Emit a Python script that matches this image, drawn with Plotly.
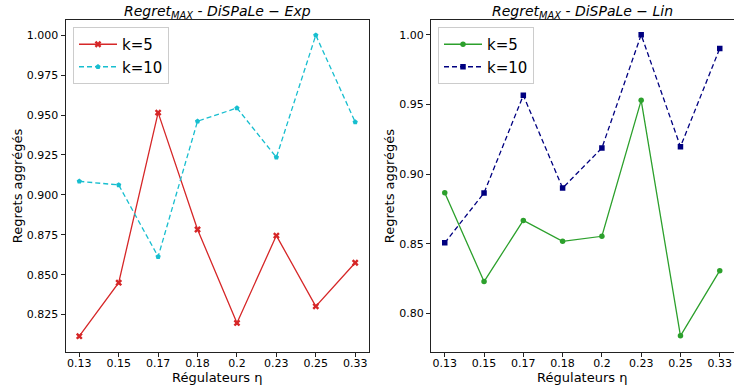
import plotly.graph_objects as go

eta_labels = ["0.13", "0.15", "0.17", "0.18", "0.2", "0.23", "0.25", "0.33"]

exp_k5 = [0.8115, 0.845, 0.9515, 0.8783, 0.8198, 0.8745, 0.8302, 0.8575]
exp_k10 = [0.9085, 0.9062, 0.8613, 0.9461, 0.9544, 0.9235, 1.000, 0.9456]

lin_k5 = [0.8866, 0.8228, 0.8667, 0.8517, 0.8553, 0.9529, 0.7838, 0.8306]
lin_k10 = [0.8506, 0.8864, 0.9565, 0.8899, 0.9187, 1.000, 0.9196, 0.9902]

W, H = 734, 390
FONT = "DejaVu Sans"

fig = go.Figure()

fig.add_trace(go.Scatter(x=eta_labels, y=exp_k5, name="k=5", mode="lines+markers",
                         line=dict(color="#d62728", width=1.3),
                         marker=dict(symbol="x", size=6, color="#d62728"),
                         xaxis="x", yaxis="y", legend="legend"))
fig.add_trace(go.Scatter(x=eta_labels, y=exp_k10, name="k=10", mode="lines+markers",
                         line=dict(color="#17becf", width=1.3, dash="5px,3px"),
                         marker=dict(symbol="pentagon", size=5.5, color="#17becf"),
                         xaxis="x", yaxis="y", legend="legend"))
fig.add_trace(go.Scatter(x=eta_labels, y=lin_k5, name="k=5", mode="lines+markers",
                         line=dict(color="#2ca02c", width=1.3),
                         marker=dict(symbol="circle", size=5.5, color="#2ca02c"),
                         xaxis="x2", yaxis="y2", legend="legend2"))
fig.add_trace(go.Scatter(x=eta_labels, y=lin_k10, name="k=10", mode="lines+markers",
                         line=dict(color="#000080", width=1.3, dash="5px,3px"),
                         marker=dict(symbol="square", size=5.5, color="#000080"),
                         xaxis="x2", yaxis="y2", legend="legend2"))

def px_x(p):
    return p / W

def px_y(p):
    return 1 - p / H

axis_common = dict(showline=True, linecolor="#222222", linewidth=1, mirror=True,
                   ticks="outside", ticklen=4, tickcolor="#222222", showgrid=False,
                   zeroline=False, tickfont=dict(family=FONT, size=11, color="black"))

xtitle = dict(text="Régulateurs η", font=dict(size=13), standoff=1)
ytitle = dict(text="Regrets aggrégés", font=dict(size=13), standoff=1)

fig.update_layout(
    width=W, height=H,
    margin=dict(l=0, r=0, t=0, b=0),
    paper_bgcolor="white", plot_bgcolor="white",
    font=dict(family=FONT, color="black"),
    xaxis=dict(domain=[px_x(65.5), px_x(369)], type="category", range=[-0.35, 7.35],
               anchor="y", title=xtitle, ticklabelstandoff=-3, **axis_common),
    yaxis=dict(domain=[px_y(352), px_y(20)], range=[0.8016, 1.0095], dtick=0.025,
               tickformat=".3f", anchor="x", title=ytitle, **axis_common),
    xaxis2=dict(domain=[px_x(431), px_x(733.5)], type="category", range=[-0.35, 7.35],
                anchor="y2", title=xtitle, ticklabelstandoff=-3, **axis_common),
    yaxis2=dict(domain=[px_y(352), px_y(20)], range=[0.7722, 1.0106], dtick=0.05,
                tickformat=".2f", anchor="x2", title=ytitle, **axis_common),
    legend=dict(x=px_x(73), y=px_y(27), xanchor="left", yanchor="top",
                bgcolor="rgba(255,255,255,0.8)", bordercolor="#cccccc", borderwidth=1,
                font=dict(size=15, family=FONT), itemwidth=38, tracegroupgap=0),
    legend2=dict(x=px_x(438), y=px_y(27), xanchor="left", yanchor="top",
                 bgcolor="rgba(255,255,255,0.8)", bordercolor="#cccccc", borderwidth=1,
                 font=dict(size=15, family=FONT), itemwidth=38, tracegroupgap=0),
    annotations=[
        dict(text="<i>Regret<sub>MAX</sub></i> - <i>DiSPaLe − Exp</i>", x=px_x(217.5), y=px_y(12),
             xref="paper", yref="paper", showarrow=False, xanchor="center", yanchor="middle",
             font=dict(size=14, family=FONT)),
        dict(text="<i>Regret<sub>MAX</sub></i> - <i>DiSPaLe − Lin</i>", x=px_x(582), y=px_y(12),
             xref="paper", yref="paper", showarrow=False, xanchor="center", yanchor="middle",
             font=dict(size=14, family=FONT)),
    ],
)

fig.write_html("out.html", config={"displayModeBar": False},
               post_script="document.body.style.margin='0';document.body.style.overflow='hidden';")
